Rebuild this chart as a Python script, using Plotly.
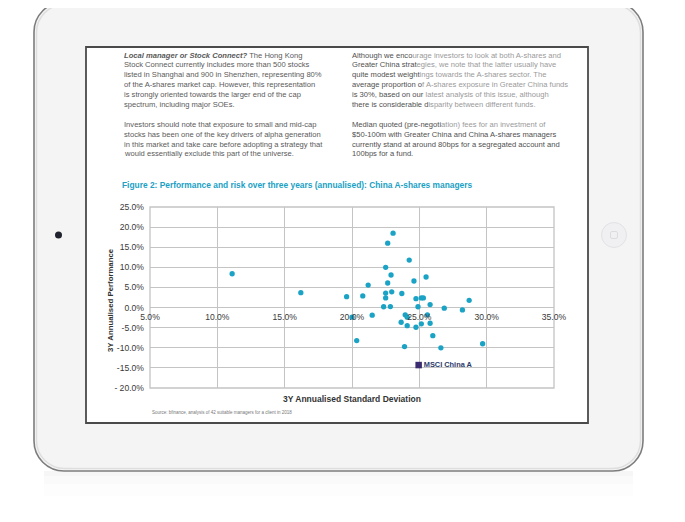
import plotly.graph_objects as go

# ---------------- data ----------------
std_dev = [11.1, 16.2, 19.6, 20.8, 21.2, 21.5, 20.0, 20.35, 23.05, 22.65, 24.25, 22.5,
           22.9, 25.5, 24.6, 22.65, 22.5, 22.95, 23.7, 22.5, 24.75, 25.15, 25.3, 28.7,
           25.8, 22.35, 22.85, 24.9, 26.85, 28.2, 23.95, 24.1, 25.6, 23.65, 24.1, 24.75,
           25.15, 25.8, 26.0, 23.9, 26.6, 29.7]
performance = [8.4, 3.7, 2.7, 2.9, 5.6, -1.9, -2.4, -8.2, 18.5, 16.0, 11.8, 10.0,
               8.1, 7.6, 6.6, 6.1, 3.6, 3.9, 3.5, 2.4, 2.2, 2.4, 2.4, 1.8,
               0.75, 0.2, 0.25, 0.2, -0.15, -0.6, -1.8, -2.4, -1.8, -3.65, -4.5, -4.9,
               -4.05, -3.9, -7.0, -9.7, -10.0, -9.0]
index_name = ["MSCI China A"]
index_std = [24.95]
index_perf = [-14.3]

x_ticks = [5, 10, 15, 20, 25, 30, 35]
x_tick_labels = ["5.0%", "10.0%", "15.0%", "20.0%", "25.0%", "30.0%", "35.0%"]
y_ticks = [25, 20, 15, 10, 5, 0, -5, -10, -15, -20]
y_tick_labels = ["25.0%", "20.0%", "15.0%", "10.0%", "5.0%", "0.0%", "-5.0%",
                 "-10.0%", "-15.0%", "- 20.0%"]

title_text = "Figure 2: Performance and risk over three years (annualised): China A-shares managers"
x_title = "3Y Annualised Standard Deviation"
y_title = "3Y Annualised Performance"
source_text = "Source: bfinance, analysis of 42 suitable managers for a client in 2018"

left_col = [
    "<b><i>Local manager or Stock Connect?</i></b> The Hong Kong",
    "Stock Connect currently includes more than 500 stocks",
    "listed in Shanghai and 900 in Shenzhen, representing 80%",
    "of the A-shares market cap. However, this representation",
    "is strongly oriented towards the larger end of the cap",
    "spectrum, including major SOEs.",
    None,
    "Investors should note that exposure to small and mid-cap",
    "stocks has been one of the key drivers of alpha generation",
    "in this market and take care before adopting a strategy that",
    "would essentially exclude this part of the universe.",
]
right_col = [
    ("Although we enco", "urage investors to look at both A-shares and"),
    ("Greater China strat", "egies, we note that the latter usually have"),
    ("quite modest weight", "ings towards the A-shares sector. The"),
    ("average proportion o", "f A-shares exposure in Greater China funds"),
    ("is 30%, based on our ", "latest analysis of this issue, although"),
    ("there is considerable d", "isparity between different funds."),
    None,
    ("Median quoted (pre-negoti", "ation) fees for an investment of"),
    ("$50-100m with Greater China and China A-shares managers", ""),
    ("currently stand at around 80bps for a segregated account and", ""),
    ("100bps for a fund.", ""),
]

# ---------------- geometry helpers (page pixel -> paper) ----------------
OFF = 8                      # page body margin
W, H = 685 - OFF, 522 - 2 * OFF
PL, PR, PT, PB = 150, 554, 207, 388   # plot area in page pixels


def px(x):
    return (x - PL) / (PR - PL)


def py(y):
    return (PB - y) / (PB - PT)


def rrect_path(x0, y0, x1, y1, r):
    k = 0.5523 * r
    pts = [
        ("M", [(x0 + r, y0)]),
        ("L", [(x1 - r, y0)]),
        ("C", [(x1 - r + k, y0), (x1, y0 + r - k), (x1, y0 + r)]),
        ("L", [(x1, y1 - r)]),
        ("C", [(x1, y1 - r + k), (x1 - r + k, y1), (x1 - r, y1)]),
        ("L", [(x0 + r, y1)]),
        ("C", [(x0 + r - k, y1), (x0, y1 - r + k), (x0, y1 - r)]),
        ("L", [(x0, y0 + r)]),
        ("C", [(x0, y0 + r - k), (x0 + r - k, y0), (x0 + r, y0)]),
    ]
    s = ""
    for cmd, ps in pts:
        s += cmd + " " + " ".join("%.5f,%.5f" % (px(a), py(b)) for a, b in ps) + " "
    return s + "Z"


shapes = []
# faint reflection under the device
for (y0, y1, a) in [(471, 476, 0.035), (476, 484, 0.018), (484, 496, 0.008)]:
    shapes.append(dict(type="rect", xref="paper", yref="paper", layer="below",
                       x0=px(44), x1=px(633), y0=py(y1), y1=py(y0),
                       fillcolor="rgba(0,0,0,%s)" % a, line=dict(width=0)))
# device body
shapes.append(dict(type="path", xref="paper", yref="paper", layer="below",
                   path=rrect_path(34, 2, 643, 471, 30),
                   fillcolor="#f4f4f4", line=dict(color="#7d7d7d", width=1.6)))
shapes.append(dict(type="path", xref="paper", yref="paper", layer="below",
                   path=rrect_path(36.5, 4.5, 640.5, 468.5, 28),
                   fillcolor="rgba(0,0,0,0)", line=dict(color="#dedede", width=1.5)))
# screen
shapes.append(dict(type="rect", xref="paper", yref="paper", layer="below",
                   x0=px(86), x1=px(588), y0=py(423), y1=py(47),
                   fillcolor="#ffffff", line=dict(color="#4a4a4a", width=1.8)))
# camera
shapes.append(dict(type="circle", xref="paper", yref="paper", layer="below",
                   x0=px(55), x1=px(62), y0=py(238.5), y1=py(231.5),
                   fillcolor="#20232e", line=dict(width=0)))
# home button
shapes.append(dict(type="circle", xref="paper", yref="paper", layer="below",
                   x0=px(601.5), x1=px(626.5), y0=py(247.5), y1=py(222.5),
                   fillcolor="#f0f0f2", line=dict(color="#e2e2e6", width=1)))
shapes.append(dict(type="path", xref="paper", yref="paper", layer="below",
                   path=rrect_path(610.5, 231.5, 617.5, 238.5, 1.5),
                   fillcolor="rgba(0,0,0,0)", line=dict(color="#dcdce0", width=1)))
# plot frame
shapes.append(dict(type="rect", xref="paper", yref="paper", layer="below",
                   x0=0, x1=1, y0=0, y1=1,
                   line=dict(color="#c4c4c4", width=1.3)))

FONT = "Liberation Sans, Arial, Helvetica, sans-serif"
annotations = []
line_ys = [55, 64.8, 74.6, 84.4, 94.2, 104, None, 124.5, 134.3, 144.1, 153.9]
for txt, yy in zip(left_col, line_ys):
    if txt is None:
        continue
    annotations.append(dict(x=px(122), y=py(yy), xref="paper", yref="paper",
                            text=txt, showarrow=False, xanchor="left", yanchor="middle",
                            font=dict(family=FONT, size=7.6, color="#5a5a5a")))
for parts, yy in zip(right_col, line_ys):
    if parts is None:
        continue
    dark, light = parts
    txt = "<span style='color:#505050'>%s</span><span style='color:#9a9a9a'>%s</span>" % (dark, light)
    annotations.append(dict(x=px(349.5), y=py(yy), xref="paper", yref="paper",
                            text=txt, showarrow=False, xanchor="left", yanchor="middle",
                            font=dict(family=FONT, size=7.6, color="#555555")))

annotations.append(dict(x=px(120), y=py(185), xref="paper", yref="paper",
                        text="<b>%s</b>" % title_text, showarrow=False,
                        xanchor="left", yanchor="middle",
                        font=dict(family=FONT, size=8.4, color="#1ba1c4")))
annotations.append(dict(x=px(110), y=py(300), xref="paper", yref="paper",
                        text="<b>%s</b>" % y_title, showarrow=False, textangle=-90,
                        xanchor="center", yanchor="middle",
                        font=dict(family=FONT, size=7.8, color="#333333")))
annotations.append(dict(x=px(352), y=py(399), xref="paper", yref="paper",
                        text="<b>%s</b>" % x_title, showarrow=False,
                        xanchor="center", yanchor="middle",
                        font=dict(family=FONT, size=8.5, color="#333333")))
annotations.append(dict(x=px(150), y=py(412), xref="paper", yref="paper",
                        text=source_text, showarrow=False,
                        xanchor="left", yanchor="middle",
                        font=dict(family=FONT, size=4.5, color="#777777")))

fig = go.Figure()
fig.add_trace(go.Scatter(x=std_dev, y=performance, mode="markers",
                         marker=dict(color="#1ba3c6", size=5.3),
                         showlegend=False, cliponaxis=False))
fig.add_trace(go.Scatter(x=index_std, y=index_perf, mode="markers+text",
                         text=["<b>%s</b>" % t for t in index_name],
                         textposition="middle right",
                         textfont=dict(family=FONT, size=7.4, color="#2b3a6b"),
                         marker=dict(color="#3a2c70", size=6.5, symbol="square"),
                         showlegend=False, cliponaxis=False))

fig.update_layout(
    width=W, height=H,
    margin=dict(l=PL - OFF, r=W - (PR - OFF), t=PT - OFF, b=H - (PB - OFF), pad=0),
    paper_bgcolor="#ffffff", plot_bgcolor="rgba(0,0,0,0)",
    shapes=shapes, annotations=annotations,
    font=dict(family=FONT, color="#444444"),
    xaxis=dict(range=[5, 35], tickvals=x_ticks, ticktext=x_tick_labels,
               showgrid=True, gridcolor="#c4c4c4", gridwidth=1.3,
               zeroline=False, showline=False, ticks="",
               anchor="free", position=20 / 45,
               ticklabelstandoff=3,
               tickfont=dict(family=FONT, size=8.6, color="#3a3a3a")),
    yaxis=dict(range=[-20, 25], tickvals=y_ticks, ticktext=y_tick_labels,
               showgrid=True, gridcolor="#c4c4c4", gridwidth=1.3,
               zeroline=False, showline=False, ticks="",
               ticklabelstandoff=5,
               tickfont=dict(family=FONT, size=8.6, color="#3a3a3a")),
)

fig.write_html("out.html", config={"displayModeBar": False})
